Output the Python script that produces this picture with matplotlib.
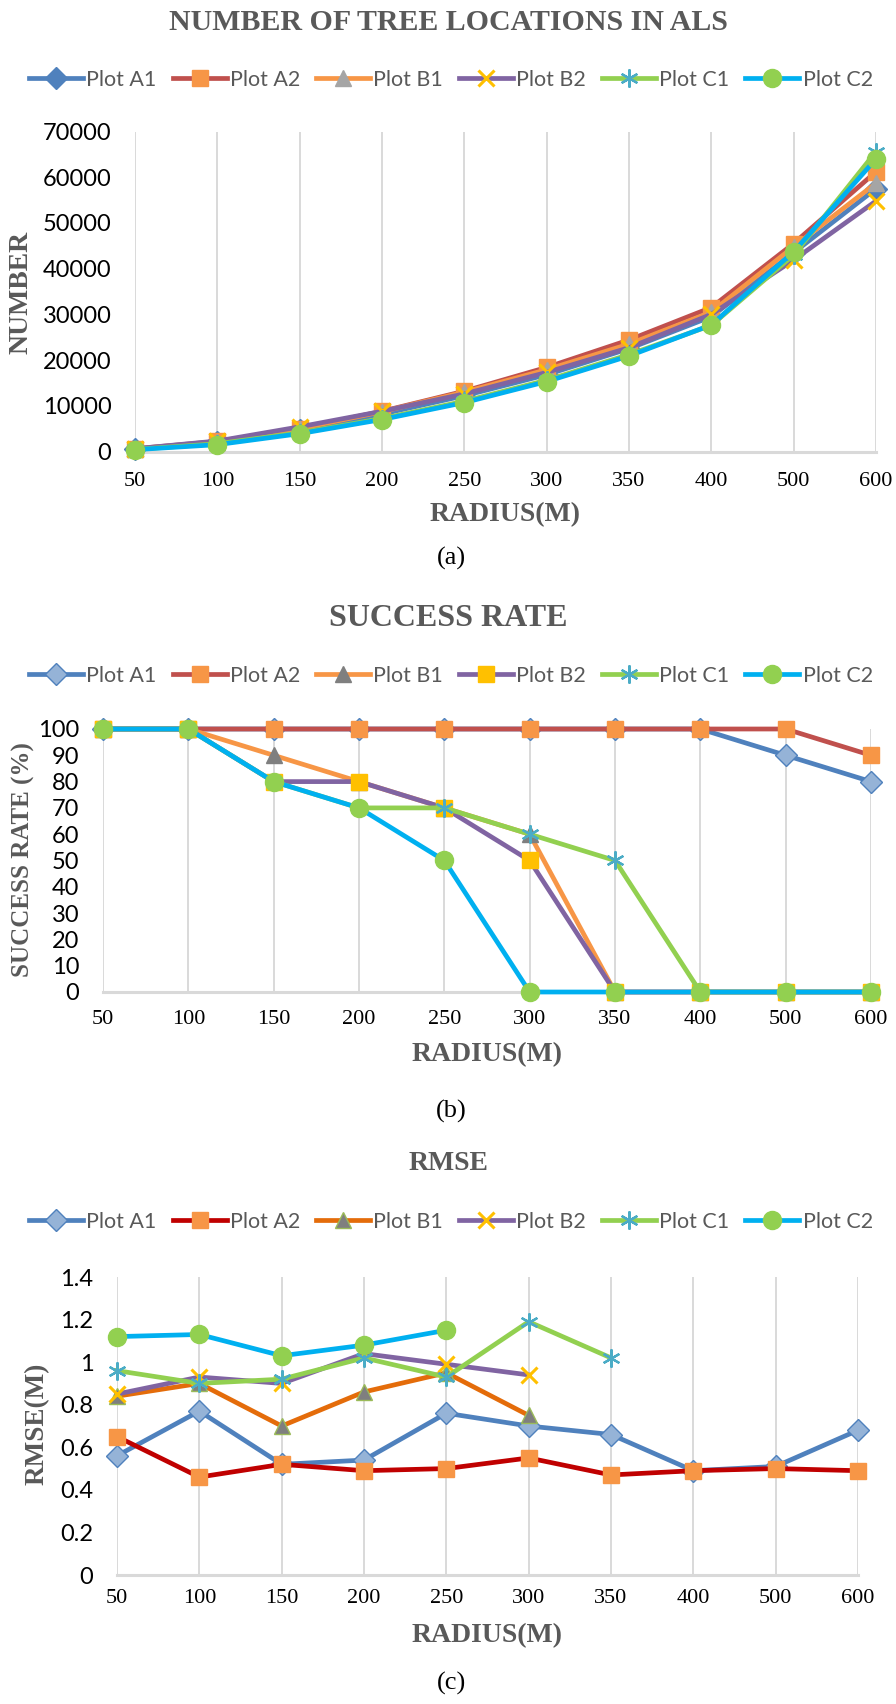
import matplotlib
matplotlib.use("Agg")
import matplotlib.pyplot as plt
import numpy as np
from matplotlib.lines import Line2D

nan = np.nan

# ---------------- data ----------------
radius = ["50", "100", "150", "200", "250", "300", "350", "400", "500", "600"]
series_names = ["Plot A1", "Plot A2", "Plot B1", "Plot B2", "Plot C1", "Plot C2"]

# (a) number of tree locations in ALS
num_A1 = [500, 2000, 4600, 8200, 12200, 16800, 22500, 29500, 43500, 57500]
num_A2 = [600, 2200, 5000, 8800, 13200, 18400, 24400, 31500, 45500, 61200]
num_B1 = [550, 2100, 5000, 8700, 13000, 17900, 23500, 30500, 44800, 58700]
num_B2 = [600, 2300, 5400, 8800, 12600, 17300, 22700, 30000, 41900, 54800]
num_C1 = [450, 1700, 4100, 7200, 11000, 15600, 21200, 27600, 43000, 65600]
num_C2 = [400, 1500, 3900, 7000, 10700, 15300, 20900, 27700, 43700, 64000]

# (b) success rate (%)
sr_A1 = [100, 100, 100, 100, 100, 100, 100, 100, 90, 80]
sr_A2 = [100, 100, 100, 100, 100, 100, 100, 100, 100, 90]
sr_B1 = [100, 100, 90, 80, 70, 60, 0, 0, 0, 0]
sr_B2 = [100, 100, 80, 80, 70, 50, 0, 0, 0, 0]
sr_C1 = [100, 100, 80, 70, 70, 60, 50, 0, 0, 0]
sr_C2 = [100, 100, 80, 70, 50, 0, 0, 0, 0, 0]

# (c) RMSE (m)
rm_A1 = [0.56, 0.77, 0.52, 0.54, 0.76, 0.70, 0.66, 0.49, 0.51, 0.68]
rm_A2 = [0.65, 0.46, 0.52, 0.49, 0.50, 0.55, 0.47, 0.49, 0.50, 0.49]
rm_B1 = [0.84, 0.90, 0.70, 0.86, 0.95, 0.75, nan, nan, nan, nan]
rm_B2 = [0.85, 0.93, 0.90, 1.04, 0.99, 0.94, nan, nan, nan, nan]
rm_C1 = [0.96, 0.90, 0.92, 1.02, 0.93, 1.19, 1.02, nan, nan, nan]
rm_C2 = [1.12, 1.13, 1.03, 1.08, 1.15, nan, nan, nan, nan, nan]

# ---------------- layout helpers ----------------
W, H = 896, 1704
fig = plt.figure(figsize=(W / 100, H / 100), dpi=100)

def fx(x):
    return x / W

def fy(y):
    return 1 - y / H

SERIF = ["Liberation Serif", "DejaVu Serif"]
SANS = ["Lato", "DejaVu Sans"]
GRAY = "#595959"
ASTER = (6, 2, 0)

def make_axes(left, right, top, bottom):
    return fig.add_axes([fx(left), fy(bottom), (right - left) / W, (bottom - top) / H])

def style_axes(ax, ymax, ystep, ylabels, xpad):
    ax.set_xlim(0, len(radius) - 1)
    ax.set_ylim(0, ymax)
    ax.set_xticks(range(len(radius)))
    ax.set_xticklabels(radius, fontfamily=SERIF, fontsize=16)
    ax.set_yticks(np.arange(0, ymax + ystep / 2, ystep))
    ax.set_yticklabels(ylabels, fontfamily=SANS, fontsize=17)
    ax.tick_params(axis="x", length=0, pad=xpad)
    ax.tick_params(axis="y", length=0, pad=17)
    ax.grid(axis="x", color="#d9d9d9", lw=1.4)
    ax.set_axisbelow(True)
    for s in ["top", "right", "left"]:
        ax.spines[s].set_visible(False)
    ax.spines["bottom"].set_color("#d9d9d9")
    ax.spines["bottom"].set_linewidth(2.2)

def draw(ax, data, styles):
    x = np.arange(len(radius))
    for y, st in zip(data, styles):
        ax.plot(x, y, color=st["lc"], lw=3.4, marker=st["m"], ms=st.get("ms", 12),
                mfc=st["mfc"], mec=st["mec"], mew=st.get("mew", 1),
                clip_on=False, zorder=3, solid_joinstyle="round")

def legend(styles, cy):
    handles = [Line2D([0], [0], color=st["lc"], lw=3.4, marker=st["m"], ms=st.get("ms", 12),
                      mfc=st["mfc"], mec=st["mec"], mew=st.get("mew", 1))
               for st in styles]
    fig.legend(handles, series_names, loc="center", bbox_to_anchor=(fx(451), fy(cy)),
               ncol=6, frameon=False, handlelength=2.5, handletextpad=0.15,
               columnspacing=0.75, numpoints=1,
               prop={"family": SANS, "size": 15.5}, labelcolor=GRAY)

def title(text, cy, size=20):
    fig.text(fx(448), fy(cy), text, ha="center", va="center", fontfamily=SERIF,
             fontweight="bold", fontsize=size, color=GRAY)

def xlabel(cx, cy):
    fig.text(fx(cx), fy(cy), "RADIUS(M)", ha="center", va="center", fontfamily=SERIF,
             fontweight="bold", fontsize=20, color=GRAY)

def ylabel(text, cx, cy, size):
    fig.text(fx(cx), fy(cy), text, ha="center", va="center", rotation=90, fontfamily=SERIF,
             fontweight="bold", fontsize=size, color=GRAY)

def caption(text, cy):
    fig.text(fx(451), fy(cy), text, ha="center", va="center", fontfamily=SERIF,
             fontsize=19, color="black")

# ---------------- panel (a) ----------------
styles_a = [
    dict(lc="#4f81bd", m="D", mfc="#4f81bd", mec="#4f81bd", ms=11),
    dict(lc="#c0504d", m="s", mfc="#f79646", mec="#f79646", ms=12),
    dict(lc="#f79646", m="^", mfc="#a5a5a5", mec="#a5a5a5", ms=12),
    dict(lc="#8064a2", m="x", mfc="#ffc000", mec="#ffc000", ms=12, mew=2.2),
    dict(lc="#92d050", m=ASTER, mfc="#4bacc6", mec="#4bacc6", ms=13, mew=1.6),
    dict(lc="#00b0f0", m="o", mfc="#92d050", mec="#92d050", ms=13),
]
ax_a = make_axes(135, 876, 131.5, 451.5)
style_axes(ax_a, 70000, 10000, [str(v) for v in range(0, 70001, 10000)], 15)
draw(ax_a, [num_A1, num_A2, num_B1, num_B2, num_C1, num_C2], styles_a)
title("NUMBER OF TREE LOCATIONS IN ALS", 22.5, 21.5)
legend(styles_a, 80)
ylabel("NUMBER", 21, 292, 20)
xlabel(505, 515)
caption("(a)", 558)

# ---------------- panel (b) ----------------
styles_b = [
    dict(lc="#4f81bd", m="D", mfc="#95b3d7", mec="#4f81bd", ms=11),
    dict(lc="#c0504d", m="s", mfc="#f79646", mec="#f79646", ms=12),
    dict(lc="#f79646", m="^", mfc="#7f7f7f", mec="#7f7f7f", ms=12),
    dict(lc="#8064a2", m="s", mfc="#ffc000", mec="#ffc000", ms=12),
    dict(lc="#92d050", m=ASTER, mfc="#4bacc6", mec="#4bacc6", ms=13, mew=1.6),
    dict(lc="#00b0f0", m="o", mfc="#92d050", mec="#92d050", ms=13),
]
ax_b = make_axes(103, 871, 729, 992)
style_axes(ax_b, 100, 10, [str(v) for v in range(0, 101, 10)], 13)
draw(ax_b, [sr_A1, sr_A2, sr_B1, sr_B2, sr_C1, sr_C2], styles_b)
title("SUCCESS RATE", 619, 23)
legend(styles_b, 676)
ylabel("SUCCESS RATE (%)", 23, 860, 18)
xlabel(487, 1055)
caption("(b)", 1111)

# ---------------- panel (c) ----------------
styles_c = [
    dict(lc="#4f81bd", m="D", mfc="#95b3d7", mec="#4f81bd", ms=11),
    dict(lc="#c00000", m="s", mfc="#f79646", mec="#f79646", ms=12),
    dict(lc="#e46c0a", m="^", mfc="#7f7f7f", mec="#9bbb59", ms=12),
    dict(lc="#8064a2", m="x", mfc="#ffc000", mec="#ffc000", ms=12, mew=2.2),
    dict(lc="#92d050", m=ASTER, mfc="#4bacc6", mec="#4bacc6", ms=13, mew=1.6),
    dict(lc="#00b0f0", m="o", mfc="#92d050", mec="#92d050", ms=13),
]
ax_c = make_axes(117, 858, 1277, 1575)
style_axes(ax_c, 1.4, 0.2, ["0", "0.2", "0.4", "0.6", "0.8", "1", "1.2", "1.4"], 10)
draw(ax_c, [rm_A1, rm_A2, rm_B1, rm_B2, rm_C1, rm_C2], styles_c)
title("RMSE", 1163, 20)
legend(styles_c, 1222)
ylabel("RMSE(M)", 37, 1424, 19.5)
xlabel(487, 1636)
caption("(c)", 1683)

fig.savefig("out.png", dpi=100, facecolor="white")
